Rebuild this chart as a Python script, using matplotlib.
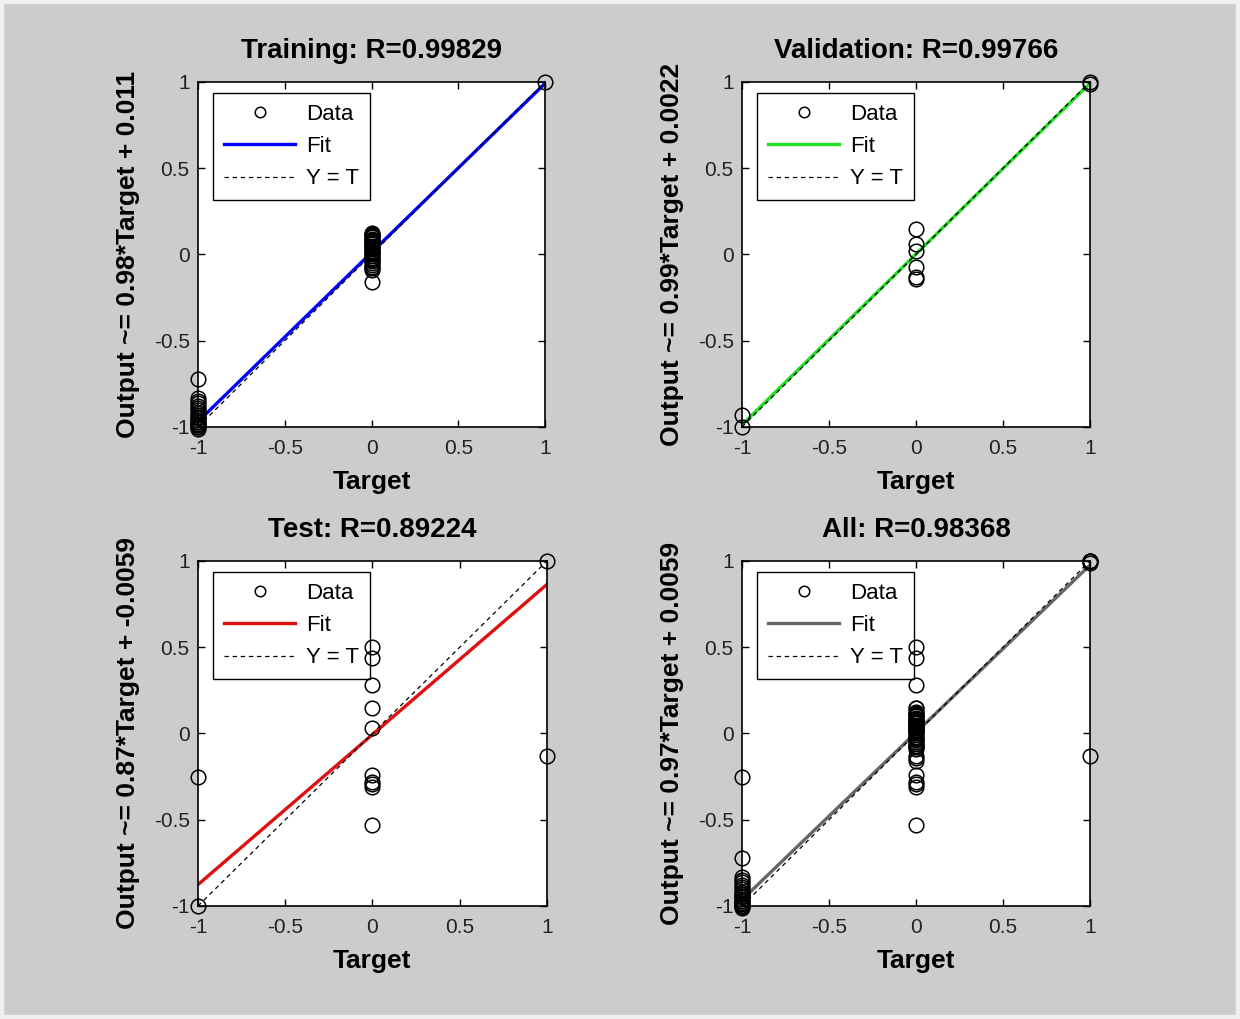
import numpy as np
import matplotlib.pyplot as plt
from matplotlib.patches import Rectangle

plt.rcParams['font.family'] = ['Liberation Sans', 'DejaVu Sans']

# ----------- Data -----------
train_target = [1] + [0] * 30 + [-1] * 20
train_output = [1.0,
                0.125, 0.12, 0.11, 0.105, 0.10, 0.09, 0.085, 0.08, 0.07, 0.065, 0.06,
                0.05, 0.045, 0.04, 0.03, 0.02, 0.015, 0.01, 0.0, -0.01, -0.02, -0.025,
                -0.03, -0.04, -0.05, -0.06, -0.07, -0.08, -0.09, -0.16,
                -0.72, -0.83, -0.85, -0.86, -0.88, -0.89, -0.90, -0.92, -0.93, -0.94,
                -0.95, -0.96, -0.97, -0.98, -0.99, -1.0, -1.0, -0.99, -0.97, -1.01]

val_target = [1, 1, 0, 0, 0, 0, 0, 0, -1, -1]
val_output = [1.0, 0.99, 0.145, 0.06, 0.02, -0.07, -0.13, -0.145, -0.93, -1.0]

test_target = [1, 1] + [0] * 10 + [-1, -1]
test_output = [1.0, -0.13,
               0.50, 0.44, 0.28, 0.15, 0.03, -0.24, -0.28, -0.29, -0.31, -0.53,
               -0.25, -1.0]

all_target = train_target + val_target + test_target
all_output = train_output + val_output + test_output

titles = ["Training: R=0.99829", "Validation: R=0.99766", "Test: R=0.89224", "All: R=0.98368"]
slopes = [0.98, 0.99, 0.87, 0.97]
offsets = [0.011, 0.0022, -0.0059, 0.0059]
offset_txt = ["0.011", "0.0022", "-0.0059", "0.0059"]
fit_colors = ["#0000ff", "#22dd22", "#e01010", "#666666"]
targets = [train_target, val_target, test_target, all_target]
outputs = [train_output, val_output, test_output, all_output]
ticks = [-1, -0.5, 0, 0.5, 1]
tick_labels = ["-1", "-0.5", "0", "0.5", "1"]

# ----------- Layout (figure fractions) -----------
positions = [
    [0.1597, 0.581, 0.2798, 0.3386],
    [0.5984, 0.581, 0.2806, 0.3386],
    [0.1597, 0.1109, 0.2814, 0.3386],
    [0.5984, 0.1109, 0.2806, 0.3386],
]

fig = plt.figure(figsize=(12.4, 10.19), dpi=100, facecolor="#cccccc")
fig.patches.append(Rectangle((0, 0), 1, 1, transform=fig.transFigure, fill=False,
                             edgecolor="#f0f0f0", linewidth=6))

xx = np.array([-1, 1])
for k in range(4):
    ax = fig.add_axes(positions[k])
    ax.set_facecolor("white")
    ax.plot(targets[k], outputs[k], "o", mfc="none", mec="black", ms=10.5, mew=1.1,
            clip_on=False, label="Data", zorder=3)
    ax.plot(xx, slopes[k] * xx + offsets[k], color=fit_colors[k], lw=2.4,
            label="Fit", zorder=2)
    ax.plot(xx, xx, "--", color="black", lw=0.9, dashes=(3.5, 3), label="Y = T", zorder=2)

    ax.set_xlim(-1, 1)
    ax.set_ylim(-1, 1)
    ax.set_xticks(ticks)
    ax.set_xticklabels(tick_labels)
    ax.set_yticks(ticks)
    ax.set_yticklabels(tick_labels)
    ax.tick_params(direction="in", length=5, width=1, top=True, right=True,
                   labelsize=15, colors="black", labelcolor="#222222")
    ax.tick_params(axis="x", pad=9)
    ax.tick_params(axis="y", pad=6)
    for s in ax.spines.values():
        s.set_linewidth(1.2)

    ax.set_title(titles[k], fontsize=20, fontweight="bold", pad=17)
    ax.set_xlabel("Target", fontsize=19, fontweight="bold", labelpad=8)
    ax.set_ylabel("Output ~= %.2f*Target + %s" % (slopes[k], offset_txt[k]),
                  fontsize=19, fontweight="bold", labelpad=10)

    leg = ax.legend(loc="upper left", bbox_to_anchor=(0.043, 0.968), borderaxespad=0,
                    fontsize=16, numpoints=1, markerscale=0.72, handlelength=3.2,
                    handletextpad=0.5, labelspacing=0.5, borderpad=0.5,
                    fancybox=False, framealpha=1, edgecolor="black")
    leg.get_frame().set_linewidth(1.0)
    leg.set_zorder(1)

fig.savefig("out.png", dpi=100, facecolor=fig.get_facecolor())
